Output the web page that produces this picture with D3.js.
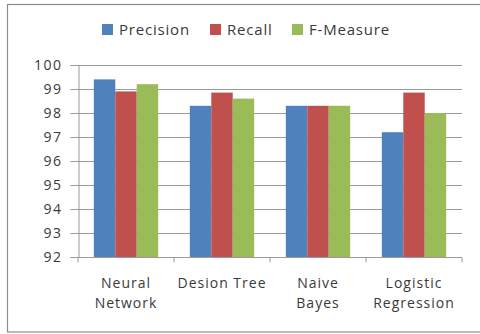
<!DOCTYPE html>
<html>
<head>
<meta charset="utf-8">
<script src="https://cdn.jsdelivr.net/npm/d3@7"></script>
<style>
  body { margin: 0; background: #fff; }
  svg { display: block; }
</style>
</head>
<body>
<div id="chart"></div>
<script>
  // chart data
  const categories = [["Neural", "Network"], ["Desion Tree"], ["Naive", "Bayes"], ["Logistic", "Regression"]];
  const seriesNames = ["Precision", "Recall", "F-Measure"];
  const precision = [99.4, 98.3, 98.3, 97.2];
  const recall = [98.9, 98.85, 98.3, 98.85];
  const fMeasure = [99.2, 98.6, 98.3, 98.0];
  const yTicks = [92, 93, 94, 95, 96, 97, 98, 99, 100];

  const COLORS = ["#4F81BD", "#C0504D", "#9BBB59"];
  const FONT = "'Open Sans', Lato, sans-serif";
  const W = 480, H = 334;
  const seriesValues = [precision, recall, fMeasure];

  const svg = d3.select("#chart").append("svg").attr("width", W).attr("height", H);

  // outer chart border
  svg.append("rect").attr("x", 7.5).attr("y", 4.5).attr("width", 480).attr("height", 327.5)
    .attr("fill", "#fff").attr("stroke", "#8c8c8c").attr("stroke-width", 1.2);

  const plotL = 78, plotR = 462, plotT = 65, plotB = 257;

  const x0 = d3.scaleBand().domain(d3.range(categories.length)).range([plotL, plotR]).paddingInner(0.33).paddingOuter(0.165);
  const x1 = d3.scaleBand().domain(d3.range(seriesNames.length)).range([0, x0.bandwidth()]);
  const y = d3.scaleLinear().domain([92, 100]).range([plotB, plotT]);

  // gridlines
  svg.append("g").selectAll("line").data(yTicks).join("line")
    .attr("x1", plotL).attr("x2", plotR)
    .attr("y1", d => Math.round(y(d)) + 0.5).attr("y2", d => Math.round(y(d)) + 0.5)
    .attr("stroke", "#9a9a9a").attr("stroke-width", 1);

  // y axis
  const yAxis = svg.append("g").attr("transform", `translate(${plotL + 0.5},0)`)
    .call(d3.axisLeft(y).tickValues(yTicks).tickSize(8).tickPadding(8));
  yAxis.select(".domain").attr("stroke", "#9a9a9a");
  yAxis.selectAll(".tick line").attr("stroke", "#9a9a9a");
  yAxis.selectAll("text").attr("font-family", FONT).attr("font-size", 14)
    .attr("letter-spacing", 1.5).attr("fill", "#3a3a3a");

  // bars
  const groups = svg.append("g").selectAll("g").data(categories).join("g")
    .attr("transform", (d, i) => `translate(${x0(i)},0)`);
  groups.selectAll("rect").data((d, i) => seriesValues.map((s, k) => ({ k, v: s[i] }))).join("rect")
    .attr("x", d => x1(d.k)).attr("width", x1.bandwidth())
    .attr("y", d => y(d.v)).attr("height", d => y(92) - y(d.v))
    .attr("fill", d => COLORS[d.k]);

  // x axis
  const xAxisG = svg.append("g").attr("transform", `translate(0,${plotB + 0.5})`);
  xAxisG.append("line").attr("x1", plotL).attr("x2", plotR).attr("stroke", "#9a9a9a");
  const step = (plotR - plotL) / categories.length;
  xAxisG.selectAll("line.tk").data(d3.range(categories.length + 1)).join("line").attr("class", "tk")
    .attr("x1", i => plotL + i * step).attr("x2", i => plotL + i * step)
    .attr("y1", 0).attr("y2", 5).attr("stroke", "#9a9a9a");

  // category labels
  const lbl = svg.append("g").selectAll("text").data(categories).join("text")
    .attr("text-anchor", "middle").attr("font-family", FONT).attr("font-size", 14)
    .attr("letter-spacing", 1).attr("fill", "#3a3a3a")
    .attr("transform", (d, i) => `translate(${x0(i) + x0.bandwidth() / 2},288)`);
  lbl.selectAll("tspan").data(d => d).join("tspan")
    .attr("x", 0).attr("dy", (d, j) => j === 0 ? 0 : 20).text(d => d);

  // legend
  const legendX = [102, 210, 292];
  const leg = svg.append("g").selectAll("g").data(seriesNames).join("g")
    .attr("transform", (d, i) => `translate(${legendX[i]},29)`);
  leg.append("rect").attr("x", 0).attr("y", -5).attr("width", 11).attr("height", 11)
    .attr("fill", (d, i) => COLORS[i]);
  leg.append("text").attr("x", 17).attr("y", 5.5).attr("font-family", FONT).attr("font-size", 15)
    .attr("letter-spacing", 0.8).attr("fill", "#3a3a3a").text(d => d);
</script>
</body>
</html>
